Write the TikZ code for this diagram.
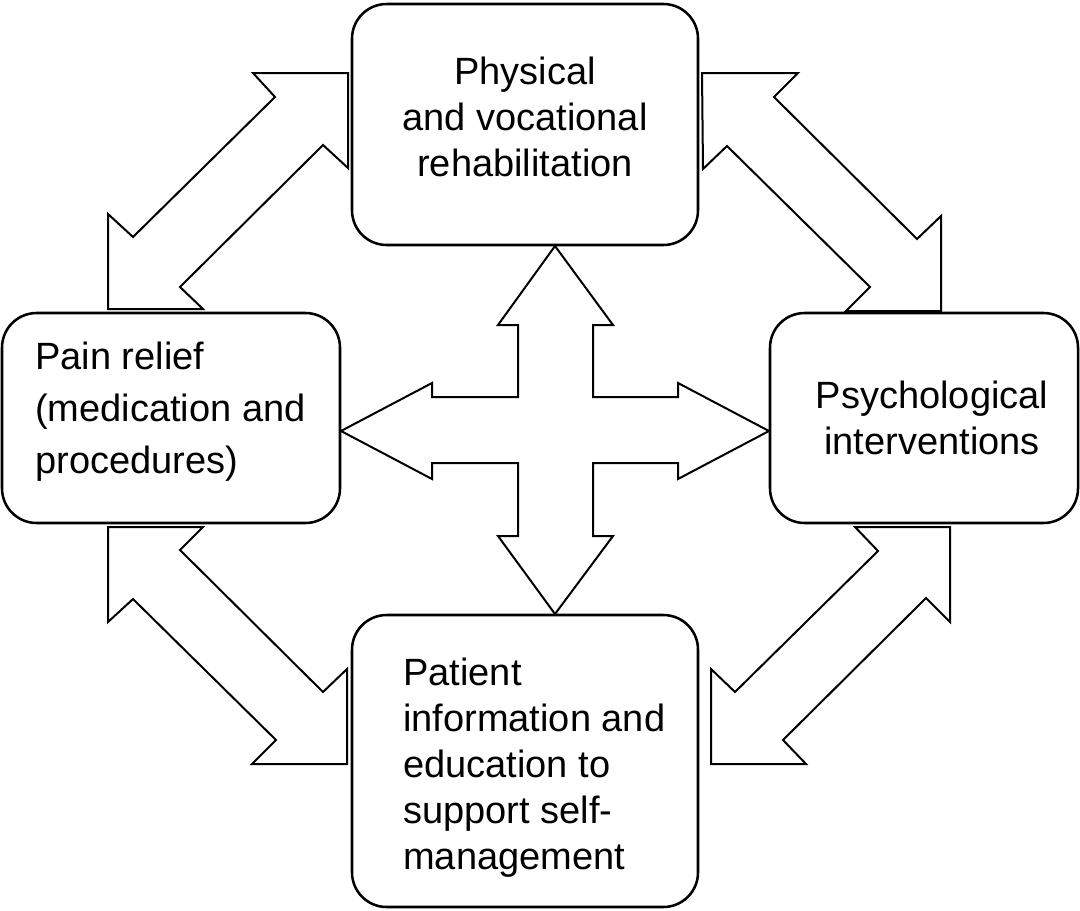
\documentclass[tikz,border=0pt]{standalone}
\usepackage{fontspec}
\setmainfont{Liberation Sans}
\begin{document}
\begin{tikzpicture}[x=0.75pt,y=-0.75pt,
  box/.style={draw,line width=1.9pt,rounded corners=26pt,inner sep=0pt},
  arr/.style={draw,line width=1.5pt,line join=miter,fill=white},
  txt/.style={font=\fontsize{28.5}{34.5}\selectfont,inner sep=0pt}]
\useasboundingbox (0,0) rectangle (1080,910);
% boxes
\node[box,minimum width=259.5pt,minimum height=180.75pt] (top) at (525,124.5) {};
\node[box,minimum width=253.5pt,minimum height=157.5pt] (left) at (171,418) {};
\node[box,minimum width=231pt,minimum height=157.5pt] (right) at (924,418) {};
\node[box,minimum width=259.5pt,minimum height=219pt] (bottom) at (525,761) {};
% texts
\node[txt,align=center] (ttop) at (525,117) {Physical\\and vocational\\rehabilitation};
\node[txt,align=left,anchor=west,font=\fontsize{28.5}{39}\selectfont] (tleft) at (35,412) {Pain relief\\(medication and\\procedures)};
\node[txt,align=center] (tright) at (932,418) {Psychological\\interventions};
\node[txt,align=left,anchor=west] (tbottom) at (403,768) {Patient\\information and\\education to\\support self-\\management};
% central cross
\draw[arr] (555,246) -- (613,325) -- (593,325) -- (593,397) -- (678,397) -- (678,383) -- (769,431)
  -- (678,479) -- (678,463) -- (593,463) -- (593,536) -- (613,536) -- (555,614)
  -- (498,536) -- (518,536) -- (518,463) -- (432,463) -- (432,479) -- (341,431)
  -- (432,383) -- (432,397) -- (518,397) -- (518,325) -- (498,325) -- cycle;
% diagonal arrows
\draw[arr] (253,73) -- (348,73) -- (348,168) -- (323,145) -- (180,287) -- (203,309)
  -- (108,309) -- (108,214) -- (133,237) -- (275,97) -- cycle;
\draw[arr] (702,73) -- (798,73) -- (774,97) -- (917,239) -- (941,216) -- (941,311)
  -- (846,311) -- (870,287) -- (727,146) -- (703,169) -- cycle;
\draw[arr] (950,527) -- (855,527) -- (878,551) -- (735,692) -- (711,669) -- (711,764)
  -- (806,764) -- (783,740) -- (926,598) -- (950,622) -- cycle;
\draw[arr] (108,527) -- (203,527) -- (180,550) -- (323,692) -- (347,669) -- (347,764)
  -- (252,764) -- (276,740) -- (133,599) -- (108,622) -- cycle;
\end{tikzpicture}
\end{document}
